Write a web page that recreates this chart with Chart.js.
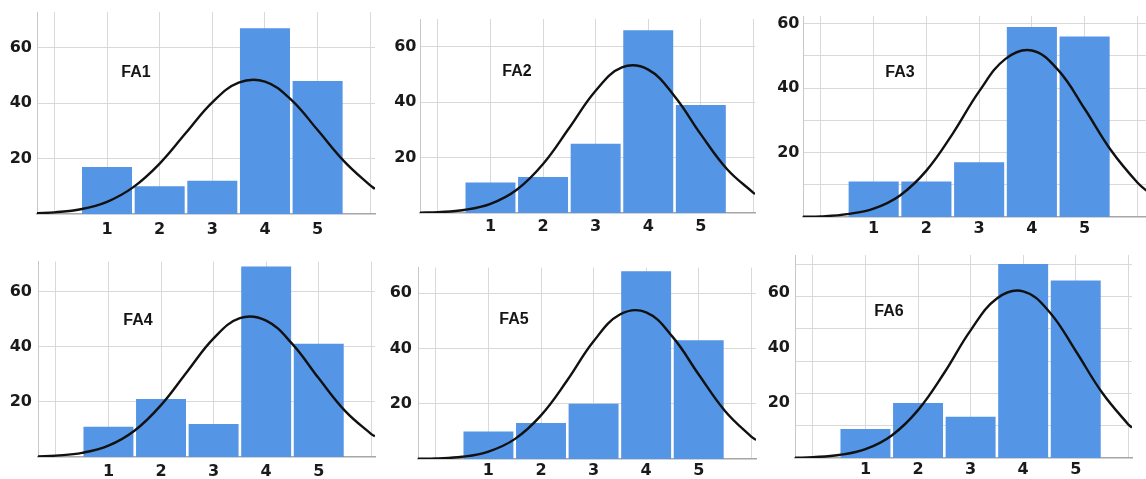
<!DOCTYPE html>
<html>
<head>
<meta charset="utf-8">
<title>FA1 - FA6 histograms</title>
<script src="https://cdn.jsdelivr.net/npm/chart.js@4.4.0/dist/chart.umd.min.js"></script>
<style>
  html, body { margin: 0; padding: 0; background: #fff; }
  body { width: 1146px; height: 479px; position: relative; overflow: hidden; }
  canvas { position: absolute; }
</style>
</head>
<body>
<script>
// ==========================
// DATA
// ==========================

const categories = [1, 2, 3, 4, 5];
const gridX = [0, 1, 2, 3, 4, 5, 6];
const yTickLabels = [20, 40, 60];
const panelNames = ["FA1", "FA2", "FA3", "FA4", "FA5", "FA6"];

// bar heights (counts per answer 1..5)
const fa1Counts = [17, 10, 12, 67, 48];
const fa2Counts = [11, 13, 25, 66, 39];
const fa3Counts = [11, 11, 17, 59, 56];
const fa4Counts = [11, 21, 12, 69, 41];
const fa5Counts = [10, 13, 20, 68, 43];
const fa6Counts = [10.5, 20, 15, 70.5, 64.5];

// normal curve
const fa1CurveX = [-0.33, 0, 0.5, 1, 1.5, 2, 2.5, 3, 3.5, 4, 4.5, 5, 5.5, 6, 6.09];
const fa1CurveY = [0.3, 0.6, 1.7, 4.4, 9.7, 18.2, 29.3, 40.3, 47.4, 47.8, 41.2, 30.3, 19.1, 10.3, 9.1];

const fa2CurveX = [-0.34, 0, 0.5, 1, 1.5, 2, 2.5, 3, 3.5, 4, 4.5, 5, 5.5, 6, 6.03];
const fa2CurveY = [0.1, 0.3, 1.1, 3.3, 8.4, 17.7, 30.8, 44.2, 52.6, 51.8, 42.2, 28.4, 15.8, 7.3, 6.9];

const fa3CurveX = [-0.34, 0, 0.5, 1, 1.5, 2, 2.5, 3, 3.5, 4, 4.5, 5, 5.5, 6, 6.24];
const fa3CurveY = [0.1, 0.2, 0.9, 2.6, 6.7, 14.4, 25.9, 39.0, 49.1, 51.7, 45.6, 33.6, 20.7, 10.7, 7.3];

const fa4CurveX = [-0.34, 0, 0.5, 1, 1.5, 2, 2.5, 3, 3.5, 4, 4.5, 5, 5.5, 6, 6.07];
const fa4CurveY = [0.2, 0.5, 1.5, 4.1, 9.6, 18.8, 31.0, 43.0, 50.3, 49.4, 40.9, 28.5, 16.7, 8.3, 7.5];

const fa5CurveX = [-0.34, 0, 0.5, 1, 1.5, 2, 2.5, 3, 3.5, 4, 4.5, 5, 5.5, 6, 6.09];
const fa5CurveY = [0.1, 0.2, 0.8, 2.7, 7.2, 15.8, 28.5, 42.6, 52.3, 53.1, 44.3, 30.6, 17.4, 8.1, 6.9];

const fa6CurveX = [-0.34, 0, 0.5, 1, 1.5, 2, 2.5, 3, 3.5, 4, 4.5, 5, 5.5, 6, 6.07];
const fa6CurveY = [0.1, 0.3, 1.1, 3.2, 8.2, 17.4, 31.0, 46.4, 58.0, 60.6, 53.1, 38.9, 23.8, 12.2, 11.1];

// horizontal grid lines (FA6 grid does not sit on its labels)
const gridEvery20 = [20, 40, 60];
const gridEvery10 = [10, 20, 30, 40, 50, 60];
const fa6Grid = [11.75, 23.5, 35.25, 47, 58.75, 70.5];

// ==========================
// LAYOUT (plot area of each panel, page pixels)
// ==========================

const panels = [
  { left: 37,  right: 375,  top: 12,  bottom: 214, xMin: -0.33, xMax: 6.09, yMax: 72.9, yPad: 5,   xPad: 6.5, labelX: 136, labelY: 73 },
  { left: 420, right: 755,  top: 19,  bottom: 213, xMin: -0.34, xMax: 6.03, yMax: 70.1, yPad: 3.5, xPad: 4.5, labelX: 517, labelY: 72 },
  { left: 803, right: 1150, top: 16,  bottom: 217, xMin: -0.34, xMax: 6.24, yMax: 62.4, yPad: 3.5, xPad: 2,   labelX: 900, labelY: 73 },
  { left: 38,  right: 375,  top: 261, bottom: 457, xMin: -0.34, xMax: 6.07, yMax: 70.8, yPad: 6,   xPad: 5.5, labelX: 138, labelY: 321 },
  { left: 418, right: 756,  top: 267, bottom: 459, xMin: -0.34, xMax: 6.09, yMax: 69.3, yPad: 6,   xPad: 2.5, labelX: 514, labelY: 320 },
  { left: 795, right: 1132, top: 255, bottom: 458, xMin: -0.34, xMax: 6.07, yMax: 73.8, yPad: 5,   xPad: 2,   labelX: 889, labelY: 312 }
];

const AXIS_W = 45;
const AXIS_H = 30;
const PAD_TOP = 15;
const PAD_RIGHT = 5;

const tickFont = { family: "'DejaVu Sans', Verdana, sans-serif", size: 16, weight: "bold" };
const tickColor = "#1a1a1a";
const gridColor = "#d9d9d9";

// ==========================
// PANEL LABEL PLUGIN
// ==========================

const panelLabel = {
  id: "panelLabel",
  afterDatasetsDraw(chart, args, opts) {
    const ctx = chart.ctx;
    ctx.save();
    ctx.font = "bold 16px 'Liberation Sans', Arial, sans-serif";
    ctx.fillStyle = "#151515";
    ctx.textAlign = "center";
    ctx.textBaseline = "middle";
    ctx.fillText(opts.text, opts.x, opts.y);
    ctx.restore();
  }
};

// ==========================
// BUILD ONE PANEL
// ==========================

function makePanel(i, counts, curveX, curveY, grid) {
  const p = panels[i];
  const canvas = document.createElement("canvas");
  const left = p.left - AXIS_W;
  const top = p.top - PAD_TOP;
  canvas.width = p.right - p.left + AXIS_W + PAD_RIGHT;
  canvas.height = p.bottom - p.top + PAD_TOP + AXIS_H;
  canvas.style.left = left + "px";
  canvas.style.top = top + "px";
  document.body.appendChild(canvas);

  const bars = categories.map((c, k) => ({ x: c, y: counts[k] }));
  const curve = curveX.map((x, k) => ({ x: x, y: curveY[k] }));

  return new Chart(canvas, {
    type: "bar",
    data: {
      datasets: [
        {
          type: "line",
          data: curve,
          borderColor: "#111111",
          borderWidth: 2.4,
          pointRadius: 0,
          tension: 0.4,
          fill: false,
          order: 0
        },
        {
          type: "bar",
          data: bars,
          backgroundColor: "#5595e5",
          borderWidth: 0,
          barPercentage: 0.95,
          categoryPercentage: 1,
          order: 1
        }
      ]
    },
    options: {
      responsive: false,
      animation: false,
      devicePixelRatio: 1,
      layout: { padding: { top: PAD_TOP, right: PAD_RIGHT, left: 0, bottom: 0 } },
      plugins: {
        legend: { display: false },
        tooltip: { enabled: false },
        panelLabel: { text: panelNames[i], x: p.labelX - left, y: p.labelY - top }
      },
      scales: {
        x: {
          type: "linear",
          min: p.xMin,
          max: p.xMax,
          offset: false,
          afterBuildTicks: s => { s.ticks = gridX.map(v => ({ value: v })); },
          afterFit: s => { s.height = AXIS_H; },
          grid: { color: gridColor, drawTicks: false, offset: false },
          border: { color: "#a6a6a6", width: 1.5 },
          ticks: {
            padding: p.xPad,
            color: tickColor,
            font: tickFont,
            maxRotation: 0,
            autoSkip: false,
            callback: v => categories.includes(v) ? String(v) : ""
          }
        },
        y: {
          min: 0,
          max: p.yMax,
          afterBuildTicks: s => { s.ticks = yTickLabels.map(v => ({ value: v })); },
          afterFit: s => { s.width = AXIS_W; },
          grid: { color: "rgba(0,0,0,0)", drawTicks: false },
          border: { color: "#c8c8c8", width: 1 },
          ticks: { padding: p.yPad, color: tickColor, font: tickFont }
        },
        g: {
          position: "right",
          min: 0,
          max: p.yMax,
          afterBuildTicks: s => { s.ticks = grid.map(v => ({ value: v })); },
          afterFit: s => { s.width = 0; },
          grid: { color: gridColor, drawTicks: false },
          border: { display: false },
          ticks: { display: false }
        }
      }
    },
    plugins: [panelLabel]
  });
}

// ==========================
// INIT
// ==========================

makePanel(0, fa1Counts, fa1CurveX, fa1CurveY, gridEvery20);
makePanel(1, fa2Counts, fa2CurveX, fa2CurveY, gridEvery20);
makePanel(2, fa3Counts, fa3CurveX, fa3CurveY, gridEvery10);
makePanel(3, fa4Counts, fa4CurveX, fa4CurveY, gridEvery20);
makePanel(4, fa5Counts, fa5CurveX, fa5CurveY, gridEvery20);
makePanel(5, fa6Counts, fa6CurveX, fa6CurveY, fa6Grid);
</script>
</body>
</html>
